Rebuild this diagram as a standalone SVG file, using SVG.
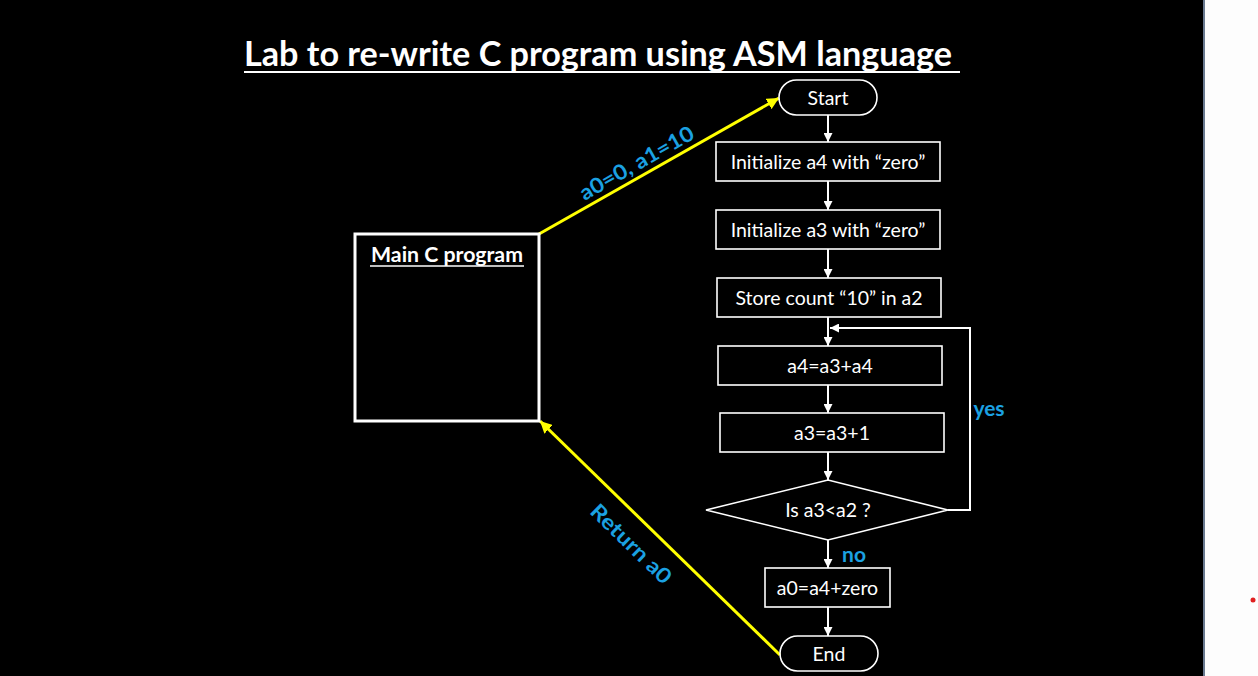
<svg xmlns="http://www.w3.org/2000/svg" width="1258" height="676" viewBox="0 0 1258 676">
<defs>
<style>
.box{fill:none;stroke:#fff;stroke-width:1.6}
.t{fill:#fff;font-family:Lato,"Open Sans","Liberation Sans",sans-serif;font-size:19.5px;text-anchor:middle;dominant-baseline:central}
.lbl{fill:#1ba1e2;font-family:Lato,"Open Sans","Liberation Sans",sans-serif;font-size:21px;font-weight:bold;text-anchor:middle;dominant-baseline:central}
.flow{stroke:#fff;stroke-width:2;fill:none;marker-end:url(#wa)}
.yel{stroke:#ffff00;stroke-width:3;fill:none;marker-end:url(#ya)}
</style>
<marker id="wa" viewBox="0 0 10 10" refX="10" refY="5" markerWidth="4.5" markerHeight="4.5" orient="auto" markerUnits="strokeWidth"><path d="M0,0 L10,5 L0,10 z" fill="#fff"/></marker>
<marker id="ya" viewBox="0 0 10 10" refX="10" refY="5" markerWidth="4" markerHeight="4" orient="auto" markerUnits="strokeWidth"><path d="M0,0 L10,5 L0,10 z" fill="#ffff00"/></marker>
</defs>
<rect x="0" y="0" width="1258" height="676" fill="#fdfdfd"/>
<rect x="0" y="0" width="1203" height="676" fill="#000"/>
<rect x="1203" y="0" width="2" height="676" fill="#6a7a90"/>
<circle cx="1253" cy="600" r="2.5" fill="#e02020"/>

<g id="title">
<text x="244" y="66" fill="#fff" font-family="Lato,'Open Sans','Liberation Sans',sans-serif" font-size="34" font-weight="bold" textLength="708" lengthAdjust="spacingAndGlyphs">Lab to re-write C program using ASM language</text>
<line x1="244" y1="72" x2="960" y2="72" stroke="#fff" stroke-width="2"/>
</g>

<g id="connectors">
<line class="flow" x1="828" y1="115" x2="828" y2="142"/>
<line class="flow" x1="828" y1="181" x2="828" y2="210"/>
<line class="flow" x1="828" y1="249" x2="828" y2="278"/>
<line class="flow" x1="828" y1="317" x2="828" y2="346"/>
<line class="flow" x1="828" y1="385" x2="828" y2="413"/>
<line class="flow" x1="828" y1="452" x2="828" y2="480"/>
<line class="flow" x1="828" y1="540" x2="828" y2="568"/>
<line class="flow" x1="828" y1="607" x2="828" y2="636"/>
<polyline class="flow" points="948,510 970,510 970,328 830,328"/>
<line class="yel" x1="539" y1="234" x2="779" y2="98"/>
<line class="yel" x1="780" y1="655" x2="540" y2="421"/>
<text class="lbl" x="989" y="407">yes</text>
<text class="lbl" x="854" y="553">no</text>
<text class="lbl" x="636" y="162" transform="rotate(-29.5 636 162)" textLength="128" lengthAdjust="spacingAndGlyphs">a0=0, a1=10</text>
<text class="lbl" x="632" y="543" transform="rotate(44.3 632 543)" textLength="104" lengthAdjust="spacingAndGlyphs">Return a0</text>
</g>

<g id="main">
<rect x="355" y="234" width="184" height="187" fill="none" stroke="#fff" stroke-width="3"/>
<text x="447" y="262" fill="#fff" font-family="Lato,'Open Sans','Liberation Sans',sans-serif" font-size="21" font-weight="bold" text-anchor="middle" textLength="152" lengthAdjust="spacingAndGlyphs">Main C program</text>
<line x1="370" y1="266" x2="524" y2="266" stroke="#fff" stroke-width="1.5"/>
</g>

<g id="start">
<rect class="box" x="779" y="80" width="98" height="35" rx="17.5"/>
<text class="t" x="828" y="97.5">Start</text>
</g>
<g id="init-a4">
<rect class="box" x="716" y="142" width="224" height="39"/>
<text class="t" x="828" y="161.5">Initialize a4 with “zero”</text>
</g>
<g id="init-a3">
<rect class="box" x="716" y="210" width="224" height="39"/>
<text class="t" x="828" y="229.5">Initialize a3 with “zero”</text>
</g>
<g id="store">
<rect class="box" x="717" y="278" width="224" height="39"/>
<text class="t" x="829" y="297.5">Store count “10” in a2</text>
</g>
<g id="add">
<rect class="box" x="718" y="346" width="224" height="39"/>
<text class="t" x="830" y="365.5">a4=a3+a4</text>
</g>
<g id="inc">
<rect class="box" x="720" y="413" width="224" height="39"/>
<text class="t" x="832" y="432.5">a3=a3+1</text>
</g>
<g id="decision">
<polygon class="box" points="706,510 828,480 948,510 828,540"/>
<text class="t" x="828" y="509">Is a3&lt;a2 ?</text>
</g>
<g id="result">
<rect class="box" x="765" y="568" width="125" height="39"/>
<text class="t" x="827.5" y="587.5">a0=a4+zero</text>
</g>
<g id="end">
<rect class="box" x="780" y="636" width="98" height="35" rx="17.5"/>
<text class="t" x="829" y="653.5">End</text>
</g>
</svg>
